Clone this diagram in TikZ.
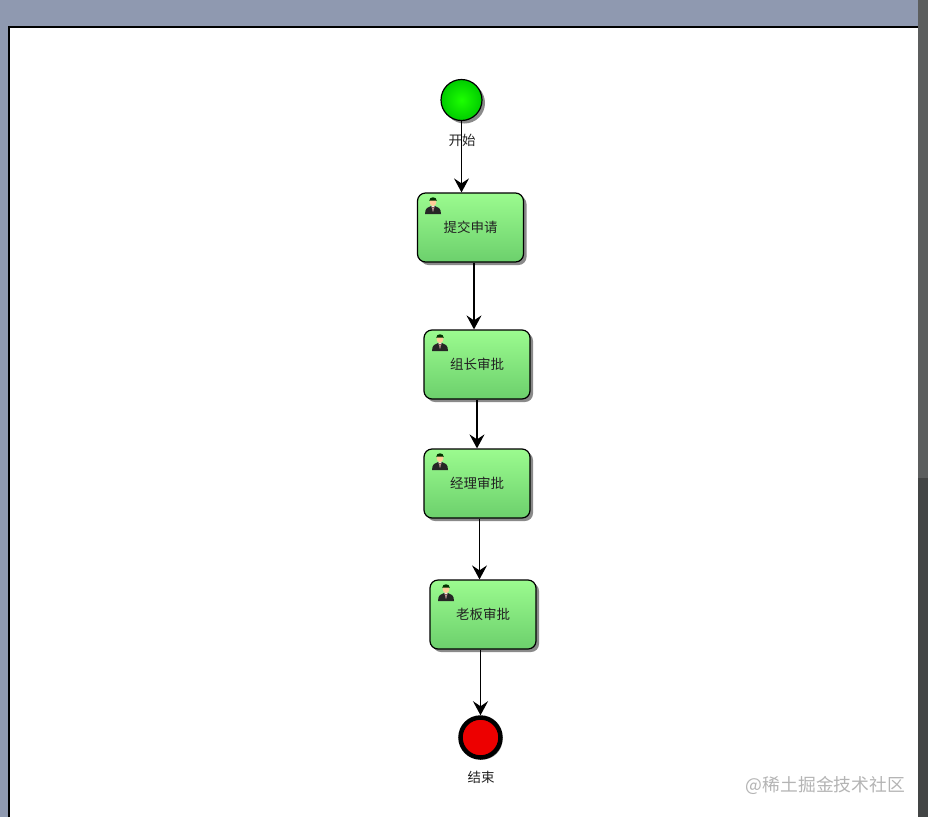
\documentclass[tikz,border=0pt]{standalone}
\usepackage{fontspec}
\setmainfont{Noto Sans CJK SC}
\usetikzlibrary{arrows.meta,shadows,shapes.geometric}
\definecolor{framebg}{HTML}{8F99B0}
\definecolor{bartop}{HTML}{5C5E5E}
\definecolor{barbot}{HTML}{434545}
\definecolor{boxtop}{HTML}{9BFB8F}
\definecolor{boxbot}{HTML}{6CD06C}
\definecolor{shade}{HTML}{8A8A8A}
\definecolor{txt}{HTML}{222222}
\definecolor{mark}{HTML}{B4B4B4}
\tikzset{
  x=1pt,y=-1pt,
  flow/.style={draw=black,line width=1.4pt,-{Stealth[length=14pt,width=15pt,inset=5pt]}},
  taskbox/.style={draw=black,line width=1.2pt,rounded corners=8pt,minimum width=106pt,minimum height=69pt,
    inner sep=0pt,top color=boxtop,bottom color=boxbot,text=txt,font=\fontsize{13.5}{15}\selectfont,
    general shadow={shadow xshift=3pt,shadow yshift=-3pt,fill=shade}},
  startev/.style={circle,draw=black,line width=1.2pt,minimum size=41pt,inner sep=0pt,
    inner color=green!85!lime,outer color=green!80!black,
    general shadow={shadow xshift=3pt,shadow yshift=-3pt,fill=shade}},
  endev/.style={circle,draw=black,line width=4.5pt,minimum size=40pt,inner sep=0pt,fill=red!93!black,
    general shadow={shadow xshift=2pt,shadow yshift=-2pt,fill=shade}},
  evlabel/.style={inner sep=0pt,text=txt,font=\fontsize{13.5}{15}\selectfont},
  person/.pic={
    \fill[black!85] (-8,8) .. controls (-8,2) and (-5,1) .. (-2,0) -- (2,0) .. controls (5,1) and (8,2) .. (8,8) -- cycle;
    \fill[white!85!gray] (-1.6,0) -- (1.6,0) -- (0,6) -- cycle;
    \fill[red!40!black] (-0.6,1) -- (0.6,1) -- (0,6) -- cycle;
    \fill[orange!40!white] (0,-4) circle[x radius=3.4,y radius=4.2];
    \fill[black!80!green] (-3.8,-5) .. controls (-4,-10) and (4,-10) .. (3.8,-5) -- (2.8,-5.5) -- (-2.8,-5.5) -- cycle;
  }
}
\begin{document}
\begin{tikzpicture}
\useasboundingbox (0,0) rectangle (928,817);
\fill[framebg] (0,0) rectangle (928,817);
\fill[white] (9,27) rectangle (918,817);
\draw[black,line width=1.1pt] (9,817) -- (9,27) -- (918,27);
\fill[barbot] (918,478) rectangle (928,817);
\fill[bartop] (918,0) rectangle (928,478);

\node[startev] (start) at (461.5,100) {};
\node[evlabel] (startlabel) at (462,140) {开始};
\node[taskbox] (b1) at (470.5,227.5) {提交申请};
\node[taskbox] (b2) at (477,364.5) {组长审批};
\node[taskbox] (b3) at (477,483.5) {经理审批};
\node[taskbox] (b4) at (483,614.5) {老板审批};
\node[endev] (finish) at (480.5,737.5) {};
\node[evlabel] (finishlabel) at (481,777) {结束};
\node[inner sep=0pt,text=mark,font=\fontsize{17.8}{20}\selectfont] (wm) at (825.5,785) {@稀土掘金技术社区};

\pic at (433,206) {person};
\pic at (440,343) {person};
\pic at (440,462) {person};
\pic at (446,593) {person};

\draw[flow] (start.south) -- (start |- b1.north);
\draw[flow] ([xshift=3.5pt]b1.south) -- ([xshift=-3pt]b2.north);
\draw[flow] (b2.south) -- (b3.north);
\draw[flow] ([xshift=2.5pt]b3.south) -- ([xshift=-3.5pt]b4.north);
\draw[flow] ([xshift=-2.5pt]b4.south) -- (finish.north);
\end{tikzpicture}
\end{document}
